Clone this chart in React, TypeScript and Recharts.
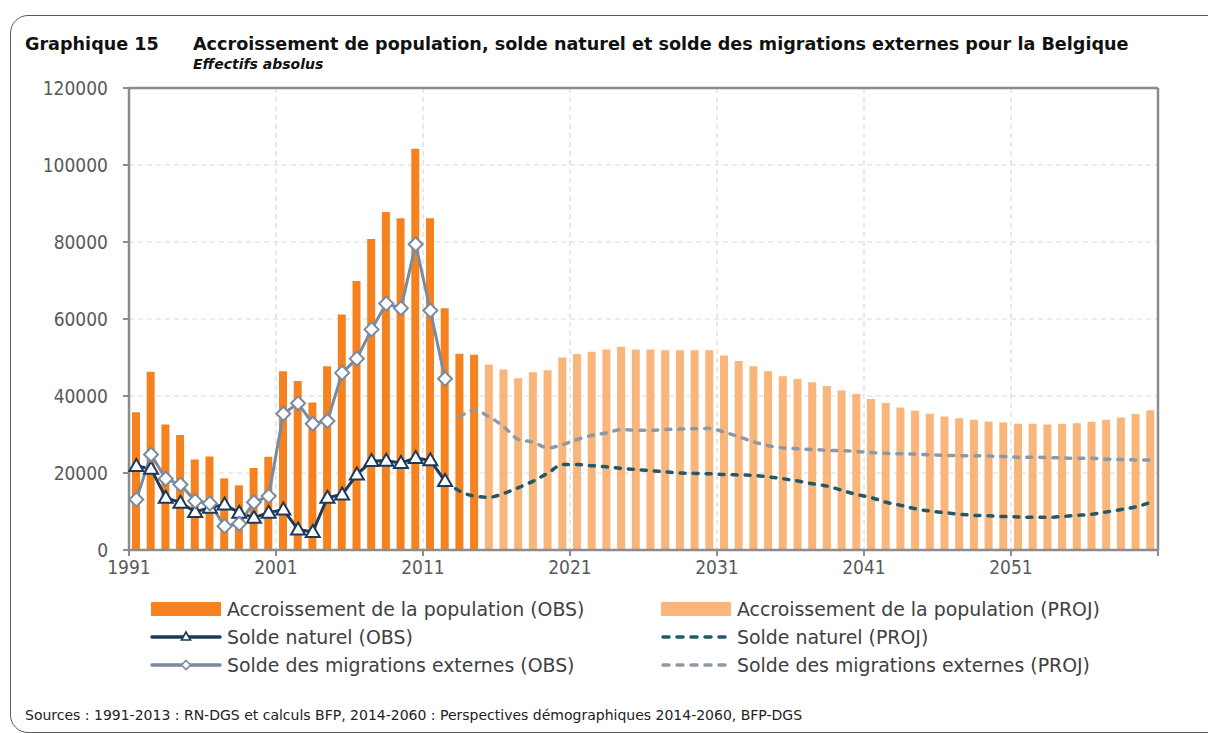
import React from 'react';
import { ComposedChart, Bar, Line, XAxis, YAxis, CartesianGrid, ReferenceLine } from 'recharts';

const FONT = '"DejaVu Sans", sans-serif';
const FONT_NARROW = '"DejaVu Sans Condensed", "DejaVu Sans", sans-serif';

// categories: one band per year
const years = Array.from({ length: 70 }, (_, i) => String(1991 + i));
const xTickPos = [0, 10, 20, 30, 40, 50, 60, 70];
const xTickLabels = ['1991', '2001', '2011', '2021', '2031', '2041', '2051', ''];
const yTicks = [0, 20000, 40000, 60000, 80000, 100000, 120000];

// Accroissement de la population, 1991-2014 (OBS)
const growthObs = [
  35800, 46300, 32600, 29900, 23500, 24300, 18600, 16800, 21300, 24200,
  46400, 43900, 38300, 47700, 61200, 69900, 80800, 87800, 86200, 104200,
  86200, 62800, 51000, 50700,
];
// Accroissement de la population, 2015-2060 (PROJ)
const growthProj = [
  48200, 46900, 44600, 46200, 46700, 50000, 50900, 51500, 52100, 52800,
  52100, 52100, 51900, 51900, 51900, 51900, 50500, 49100, 47700, 46400,
  45100, 44400, 43600, 42600, 41400, 40500, 39200, 38200, 37000, 36200,
  35400, 34700, 34200, 33800, 33400, 33100, 32800, 32800, 32600, 32800,
  32900, 33300, 33800, 34400, 35300, 36300,
];
// Solde naturel, 1991-2012 (OBS)
const naturalObs = [
  21800, 21100, 13600, 12300, 9900, 11000, 11800, 9700, 8400, 9700,
  10500, 5300, 4700, 13600, 14400, 19600, 23100, 23200, 22600, 23900,
  23300, 17900,
];
// Solde naturel, 2012-2060 (PROJ)
const naturalProj = [
  17900, 15300, 14000, 13700, 14700, 16200, 17900, 20000, 22200, 22200,
  21900, 21600, 21200, 20900, 20600, 20300, 20000, 19900, 19800, 19600,
  19500, 19400, 19000, 18500, 17900, 17200, 16600, 15500, 14400, 13600,
  12400, 11600, 10700, 10100, 9700, 9300, 9000, 8900, 8700, 8600,
  8500, 8500, 8700, 9000, 9300, 9900, 10500, 11200, 12400,
];
// Solde des migrations externes, 1991-2012 (OBS)
const migrationObs = [
  13100, 24800, 18500, 17000, 12700, 12100, 6200, 6800, 12400, 14000,
  35400, 38100, 32800, 33500, 46000, 49700, 57300, 64000, 62800, 79400,
  62200, 44500,
];
// Solde des migrations externes, 2013-2060 (PROJ)
const migrationProj = [
  34600, 36300, 34600, 32000, 28700, 28000, 26500, 27400, 28700, 29800,
  30400, 31300, 31100, 31100, 31300, 31400, 31500, 31600, 30600, 29400,
  28100, 27100, 26500, 26300, 26100, 25900, 25800, 25600, 25300, 25100,
  25000, 24900, 24700, 24600, 24500, 24500, 24400, 24300, 24100, 24100,
  24000, 23900, 23800, 23800, 23600, 23500, 23400, 23400,
];

const ORANGE = '#F5821F';
const ORANGE_LIGHT = '#F9B57A';
const NAT_OBS = '#1D3A5A';
const MIG_OBS = '#7A8BA1';
const NAT_PROJ = '#225869';
const MIG_PROJ = '#8F99A6';
const AXIS = '#8C8C8C';
const GRID = '#D9D9D9';

const pick = (arr: number[], start: number, year: number) => {
  const k = year - start;
  return k >= 0 && k < arr.length ? arr[k] : null;
};

const rows = years.map((y, i) => {
  const yr = Number(y);
  return {
    year: y,
    idx: i + 0.5,
    obs: pick(growthObs, 1991, yr),
    proj: pick(growthProj, 2015, yr),
    natObs: pick(naturalObs, 1991, yr),
    natProj: pick(naturalProj, 2012, yr),
    migObs: pick(migrationObs, 1991, yr),
    migProj: pick(migrationProj, 2013, yr),
  };
});

const TriangleDot = (p: any) => {
  const { cx, cy, index } = p;
  if (cx == null || cy == null || p.value == null) return <g key={`t${index}`} />;
  return (
    <path
      key={`t${index}`}
      d={`M${cx},${cy - 7} L${cx + 7},${cy + 5} L${cx - 7},${cy + 5} Z`}
      fill="#fff"
      stroke={NAT_OBS}
      strokeWidth={2}
    />
  );
};

const DiamondDot = (p: any) => {
  const { cx, cy, index } = p;
  if (cx == null || cy == null || p.value == null) return <g key={`d${index}`} />;
  return (
    <path
      key={`d${index}`}
      d={`M${cx},${cy - 7} L${cx + 7},${cy} L${cx},${cy + 7} L${cx - 7},${cy} Z`}
      fill="#fff"
      stroke={MIG_OBS}
      strokeWidth={2}
    />
  );
};

type LegendItem = { label: string; kind: 'bar' | 'tri' | 'dia' | 'dash'; color: string };

const legendLeft: LegendItem[] = [
  { label: 'Accroissement de la population (OBS)', kind: 'bar', color: ORANGE },
  { label: 'Solde naturel (OBS)', kind: 'tri', color: NAT_OBS },
  { label: 'Solde des migrations externes (OBS)', kind: 'dia', color: MIG_OBS },
];
const legendRight: LegendItem[] = [
  { label: 'Accroissement de la population (PROJ)', kind: 'bar', color: ORANGE_LIGHT },
  { label: 'Solde naturel (PROJ)', kind: 'dash', color: NAT_PROJ },
  { label: 'Solde des migrations externes (PROJ)', kind: 'dash', color: MIG_PROJ },
];

const Swatch = ({ item }: { item: LegendItem }) => (
  <svg width={72} height={20} style={{ display: 'block', flex: 'none' }}>
    {item.kind === 'bar' && <rect x={1} y={3} width={70} height={14} fill={item.color} rx={1} />}
    {(item.kind === 'tri' || item.kind === 'dia') && (
      <line x1={2} y1={10} x2={70} y2={10} stroke={item.color} strokeWidth={3.5} strokeLinecap="round" />
    )}
    {item.kind === 'tri' && (
      <path d="M36,5 L40.5,13 L31.5,13 Z" fill="#fff" stroke={item.color} strokeWidth={1.6} />
    )}
    {item.kind === 'dia' && (
      <path d="M36,5.5 L40.5,10 L36,14.5 L31.5,10 Z" fill="#fff" stroke={item.color} strokeWidth={1.6} />
    )}
    {item.kind === 'dash' && (
      <line x1={3} y1={10} x2={70} y2={10} stroke={item.color} strokeWidth={3.5} strokeDasharray="6 8" strokeLinecap="round" />
    )}
  </svg>
);

const LegendColumn = ({ items, left }: { items: LegendItem[]; left: number }) => (
  <div style={{ position: 'absolute', left, top: 595 }}>
    {items.map((it) => (
      <div key={it.label} style={{ display: 'flex', alignItems: 'center', height: 28 }}>
        <Swatch item={it} />
        <span style={{ marginLeft: 5, fontSize: 18.9, color: '#404040', fontFamily: FONT, whiteSpace: 'nowrap' }}>
          {it.label}
        </span>
      </div>
    ))}
  </div>
);

export default function App() {
  return (
    <div
      style={{
        position: 'absolute',
        left: 0,
        top: 0,
        width: 1208,
        height: 733,
        overflow: 'hidden',
        background: '#fff',
        fontFamily: FONT,
      }}
    >
      <div
        style={{
          position: 'absolute',
          left: 10,
          top: 15,
          width: 1240,
          height: 716,
          border: '1px solid #5a5a5a',
          borderRadius: 18,
        }}
      />
      <div style={{ position: 'absolute', left: 25, top: 34, fontSize: 17.6, fontWeight: 'bold', color: '#111', whiteSpace: 'nowrap' }}>
        Graphique 15
      </div>
      <div style={{ position: 'absolute', left: 193, top: 34, fontSize: 17.6, fontWeight: 'bold', color: '#111', whiteSpace: 'nowrap' }}>
        Accroissement de population, solde naturel et solde des migrations externes pour la Belgique
      </div>
      <div
        style={{ position: 'absolute', left: 193, top: 56, fontSize: 14, fontWeight: 'bold', fontStyle: 'italic', color: '#111', whiteSpace: 'nowrap' }}
      >
        Effectifs absolus
      </div>

      <div style={{ position: 'absolute', left: 0, top: 0 }}>
        <ComposedChart width={1208} height={600} data={rows} margin={{ top: 88, right: 50, bottom: 10, left: 0 }}>
          <XAxis
            xAxisId="num"
            type="number"
            dataKey="idx"
            domain={[0, 70]}
            allowDataOverflow
            ticks={xTickPos}
            tickFormatter={(v: number) => xTickLabels[xTickPos.indexOf(v)] ?? ''}
            height={40}
            tickSize={6}
            tickMargin={5}
            axisLine={{ stroke: AXIS, strokeWidth: 2.5 }}
            tickLine={{ stroke: AXIS, strokeWidth: 2 }}
            tick={{ fill: '#595959', fontSize: 19, fontFamily: FONT_NARROW }}
            interval={0}
          />
          <XAxis xAxisId="cat" dataKey="year" hide height={0} />
          <YAxis
            domain={[0, 120000]}
            ticks={yTicks}
            width={129}
            tickSize={6}
            tickMargin={15}
            axisLine={{ stroke: AXIS, strokeWidth: 2.5 }}
            tickLine={{ stroke: AXIS, strokeWidth: 2 }}
            tick={{ fill: '#595959', fontSize: 19, fontFamily: FONT_NARROW }}
            interval={0}
          />
          <CartesianGrid xAxisId="num" stroke={GRID} strokeDasharray="5 4" strokeWidth={1.2} />
          <ReferenceLine y={120000} stroke={AXIS} strokeWidth={2.5} />
          <ReferenceLine xAxisId="num" x={70} stroke={AXIS} strokeWidth={2.5} />

          <Bar xAxisId="cat" dataKey="obs" stackId="g" fill={ORANGE} barSize={8} isAnimationActive={false} />
          <Bar xAxisId="cat" dataKey="proj" stackId="g" fill={ORANGE_LIGHT} barSize={8} isAnimationActive={false} />

          <Line
            xAxisId="cat"
            type="monotone"
            dataKey="natProj"
            stroke={NAT_PROJ}
            strokeWidth={3.5}
            strokeDasharray="5 8"
            strokeLinecap="round"
            dot={false}
            isAnimationActive={false}
          />
          <Line
            xAxisId="cat"
            type="monotone"
            dataKey="migProj"
            stroke={MIG_PROJ}
            strokeWidth={3.5}
            strokeDasharray="5 8"
            strokeLinecap="round"
            dot={false}
            isAnimationActive={false}
          />
          <Line
            xAxisId="cat"
            type="linear"
            dataKey="natObs"
            stroke={NAT_OBS}
            strokeWidth={3}
            dot={TriangleDot}
            activeDot={false}
            isAnimationActive={false}
          />
          <Line
            xAxisId="cat"
            type="linear"
            dataKey="migObs"
            stroke={MIG_OBS}
            strokeWidth={3}
            dot={DiamondDot}
            activeDot={false}
            isAnimationActive={false}
          />
        </ComposedChart>
      </div>

      <LegendColumn items={legendLeft} left={150} />
      <LegendColumn items={legendRight} left={660} />

      <div style={{ position: 'absolute', left: 25, top: 707, fontSize: 14, color: '#222', whiteSpace: 'nowrap' }}>
        Sources : 1991-2013 : RN-DGS et calculs BFP, 2014-2060 : Perspectives démographiques 2014-2060, BFP-DGS
      </div>
    </div>
  );
}
